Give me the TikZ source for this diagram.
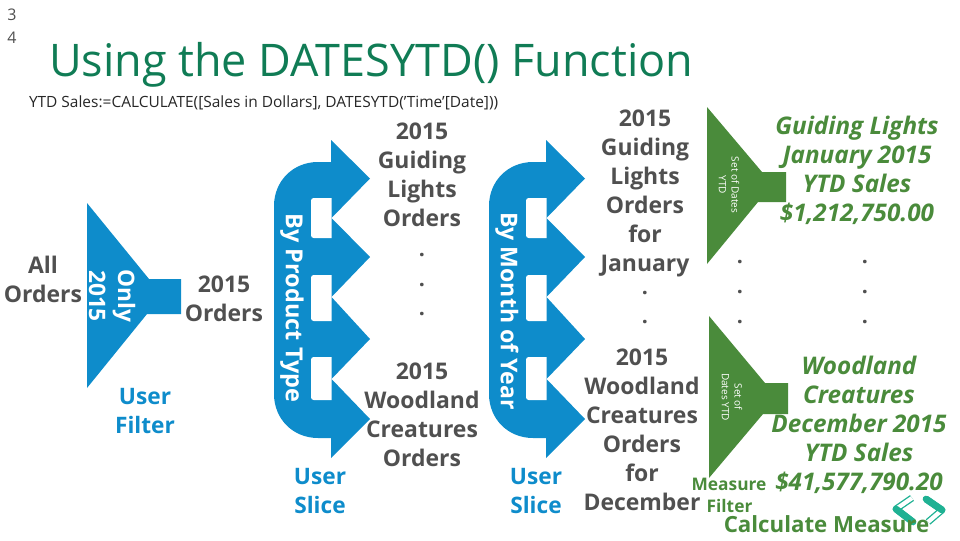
\documentclass[tikz,border=0pt]{standalone}
\usepackage{fontspec}
\setmainfont{Open Sans}
\definecolor{bluec}{HTML}{0E8CCB}
\definecolor{greenc}{HTML}{4A8B3B}
\definecolor{titlec}{HTML}{107C55}
\definecolor{grayc}{HTML}{505050}
\definecolor{tealc}{HTML}{1FB193}
\newcommand{\lsz}[1]{\fontsize{#1}{21.75pt}\selectfont}
\newcommand{\dotmark}{\smash{.}}
\tikzset{
 x=0.75pt,y=-0.75pt,
 every node/.style={inner sep=0pt,outer sep=0pt,align=center},
 graytxt/.style={text=grayc,font=\lsz{17.2}\bfseries},
 bluetxt/.style={text=bluec,font=\lsz{17}\bfseries},
 greentxt/.style={text=greenc,font=\lsz{18.2}\bfseries\itshape},
 whitetxt/.style={text=white,font=\lsz{17}\bfseries,rotate=-90},
 smalltxt/.style={text=white,font=\fontsize{7.5}{9.5pt}\selectfont,rotate=-90},
 dotstxt/.style={text=grayc,font=\fontsize{16}{22.2pt}\selectfont\bfseries},
 bluefill/.style={fill=bluec,draw=none},
 greenfill/.style={fill=greenc,draw=none}
}
\newcommand{\bracearrow}{%
 \fill[bluefill] (331,140) -- (370,178.5) -- (331.5,218) -- (370,257) -- (331.5,297) -- (370,339) -- (331.5,379) -- (370,419) -- (331,458) -- (331,438) -- (318,438)
   .. controls (293,438) and (274,419) .. (274,394) -- (274,206) .. controls (274,181) and (293,162) .. (318,162) -- (331,162) -- cycle;
 \fill[white] (331.5,198) [rounded corners=2pt] -- (311,198) -- (311,238) [sharp corners] -- (331.5,238) -- cycle;
 \fill[white] (331.5,275) [rounded corners=2pt] -- (311,275) -- (311,321) [sharp corners] -- (331.5,321) -- cycle;
 \fill[white] (331.5,357) [rounded corners=2pt] -- (311,357) -- (311,400) [sharp corners] -- (331.5,400) -- cycle;
}
\begin{document}
\begin{tikzpicture}
\useasboundingbox (0,0) rectangle (960,540);
% page number and heading
\node[anchor=center,text=grayc,font=\fontsize{12}{17pt}\selectfont] (pg) at (12,26.5) {3\\4};
\node[anchor=base west,text=titlec,font=\fontsize{33.7}{40pt}\selectfont] (title) at (49,76) {Using the DATESYTD() Function};
\node[anchor=base west,text=black!85,font=\fontsize{11.6}{14pt}\selectfont] (formula) at (29,107) {YTD Sales:=CALCULATE([Sales in Dollars], DATESYTD('Time'[Date]))};
% funnels
\fill[bluefill] (87,203) -- (149,279) -- (181,279) -- (181,314) -- (147,314) -- (87,388) -- cycle;
\fill[greenfill] (707,107) -- (762,172) -- (786,172) -- (786,202) -- (758,202) -- (707,264) -- cycle;
\fill[greenfill] (709,316) -- (765,383) -- (788,383) -- (788,414) -- (763,414) -- (709,478) -- cycle;
% brace arrows
\bracearrow
\begin{scope}[xshift=161.25pt]\bracearrow\end{scope}
% chevrons
\draw[tealc,line width=1pt,line join=round,double=white,double distance=3.2pt] (912,498) -- (896,509) -- (913,522);
\draw[tealc,line width=5pt,line cap=round] (896,509) -- (913,522);
\draw[tealc,line width=1pt,line join=round,double=white,double distance=3.2pt] (926,499) -- (942,510) -- (928,522);
\draw[tealc,line width=5pt,line cap=round] (926,499) -- (942,510);
% texts
\node[graytxt] (allorders) at (43,279) {All\\Orders};
\node[whitetxt] (only) at (112,296) {Only\\2015};
\node[graytxt] (orders2015) at (224,299) {2015\\Orders};
\node[bluetxt] (userfilter) at (145,411) {User\\Filter};
\node[whitetxt,font=\lsz{17.6}\bfseries] (byproduct) at (292,308) {By Product Type};
\node[whitetxt,font=\lsz{17.3}\bfseries] (bymonth) at (507,311) {By Month of Year};
\node[graytxt] (blocka) at (422,175) {2015\\Guiding\\Lights\\Orders};
\node[dotstxt] (dotsa) at (422,286) {\dotmark\\\dotmark\\\dotmark};
\node[graytxt] (blockb) at (422,415) {2015\\Woodland\\Creatures\\Orders};
\node[bluetxt] (slicea) at (320,491) {User\\Slice};
\node[bluetxt] (sliceb) at (536,491) {User\\Slice};
\node[graytxt] (blockc) at (645,193) {2015\\Guiding\\Lights\\Orders\\for\\January};
\node[dotstxt] (dotsc) at (645,309) {\dotmark\\\dotmark};
\node[graytxt] (blockd) at (642,430) {2015\\Woodland\\Creatures\\Orders\\for\\December};
\node[smalltxt] (setdatesa) at (729,185) {Set of Dates\\YTD};
\node[smalltxt] (setdatesb) at (732,397) {Set of\\Dates YTD};
\node[greentxt] (resa) at (857,170.5) {Guiding Lights\\January 2015\\YTD Sales\\\$1,212,750.00};
\node[dotstxt] (dotsd) at (740,293.5) {\dotmark\\\dotmark\\\dotmark};
\node[dotstxt] (dotse) at (865,293.5) {\dotmark\\\dotmark\\\dotmark};
\node[greentxt] (resb) at (859,425) {Woodland\\Creatures\\December 2015\\YTD Sales\\\$41,577,790.20};
\node[text=greenc,font=\fontsize{13}{14pt}\selectfont\bfseries] (measure) at (729,484) {Measure};
\node[text=greenc,font=\fontsize{13}{14pt}\selectfont\bfseries] (filter) at (729.5,506) {Filter};
\node[text=greenc,font=\fontsize{16.7}{20pt}\selectfont\bfseries] (calc) at (826.5,524) {Calculate Measure};
\end{tikzpicture}
\end{document}
